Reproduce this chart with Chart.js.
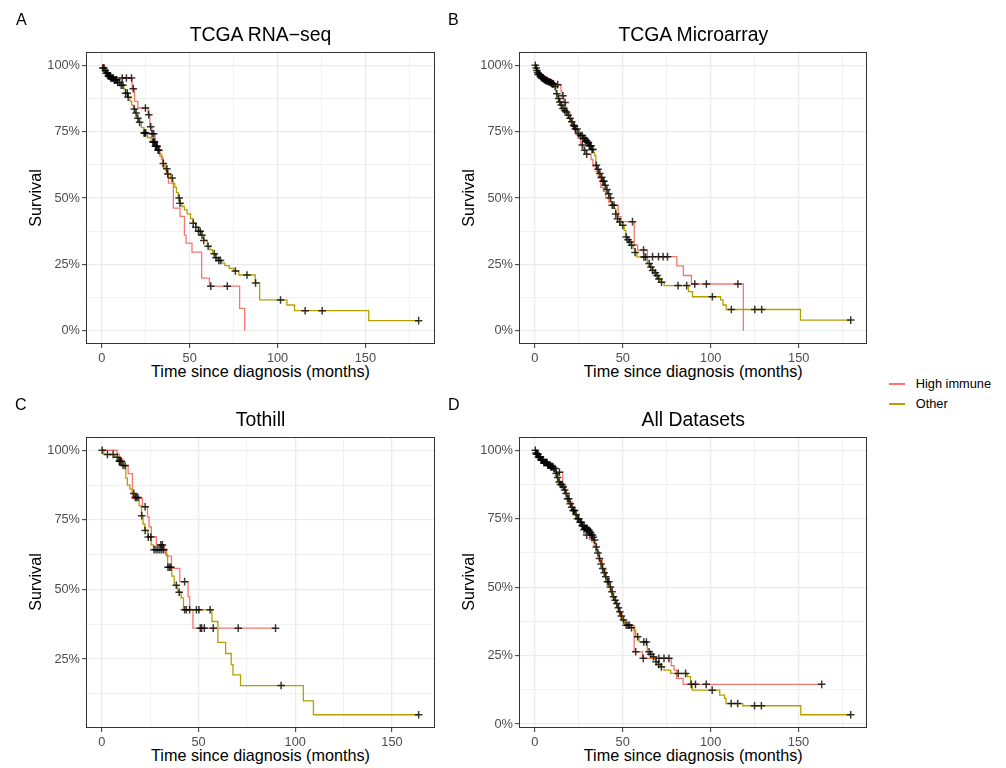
<!DOCTYPE html>
<html><head><meta charset="utf-8">
<script src="https://cdn.jsdelivr.net/npm/chart.js@4.4.0/dist/chart.umd.min.js"></script>
<style>
body{margin:0;background:#fff;width:1006px;height:768px;overflow:hidden;position:relative;font-family:"Liberation Sans",Arial,sans-serif;}
canvas{position:absolute;}
.t{position:absolute;white-space:nowrap;line-height:1;color:#000;}
.c{transform:translateX(-50%);}
.r{transform:translate(-50%,-50%) rotate(-90deg);}
.key{position:absolute;height:1.5px;width:16px;}
</style></head><body>
<canvas id="cA" width="440" height="362" style="left:0;top:0"></canvas>
<canvas id="cB" width="432" height="362" style="left:440px;top:0"></canvas>
<canvas id="cC" width="440" height="361" style="left:0;top:385px"></canvas>
<canvas id="cD" width="432" height="361" style="left:440px;top:385px"></canvas>

<div class="t" style="left:16px;top:11.5px;font-size:16px">A</div>
<div class="t" style="left:448px;top:11.5px;font-size:16px">B</div>
<div class="t" style="left:15px;top:396.5px;font-size:16px">C</div>
<div class="t" style="left:448px;top:396.5px;font-size:16px">D</div>

<div class="t c" id="tA" style="left:260.5px;top:25.3px;font-size:19.4px"></div>
<div class="t c" id="tB" style="left:693.3px;top:25.3px;font-size:19.4px"></div>
<div class="t c" id="tC" style="left:260.5px;top:410.3px;font-size:19.4px"></div>
<div class="t c" id="tD" style="left:693.3px;top:409.6px;font-size:19.4px"></div>

<div class="t c xl" style="left:260.5px;top:363px;font-size:16.2px"></div>
<div class="t c xl" style="left:693.3px;top:363px;font-size:16.2px"></div>
<div class="t c xl" style="left:260.5px;top:747.3px;font-size:16.2px"></div>
<div class="t c xl" style="left:693.3px;top:747.3px;font-size:16.2px"></div>

<div class="t r yl" style="left:35px;top:198px;font-size:16.2px"></div>
<div class="t r yl" style="left:468px;top:198px;font-size:16.2px"></div>
<div class="t r yl" style="left:35px;top:582.2px;font-size:16.2px"></div>
<div class="t r yl" style="left:468px;top:582.2px;font-size:16.2px"></div>

<div class="key" id="k0" style="left:889px;top:383.25px"></div>
<div class="key" id="k1" style="left:889px;top:403.25px"></div>
<div class="t" id="g0" style="left:915.7px;top:377.7px;font-size:12.8px"></div>
<div class="t" id="g1" style="left:915.7px;top:397.7px;font-size:12.8px"></div>

<script>
// ---------------- data ----------------
const groups = ['High immune', 'Other'];
const groupColors = ['#F8766D', '#B79F00'];
const panelTitles = ['TCGA RNA\u2212seq', 'TCGA Microarray', 'Tothill', 'All Datasets'];
const xAxisTitle = 'Time since diagnosis (months)';
const yAxisTitle = 'Survival';
const xMajorTicks = [0, 50, 100, 150];
const xMinorTicks = [25, 75, 125, 175];
const yMajorTicks = [0, 0.25, 0.5, 0.75, 1];
const yTickLabels = ['0%', '25%', '50%', '75%', '100%'];
const yMinorTicks = [0.125, 0.375, 0.625, 0.875];

// Panel A: TCGA RNA-seq
const A_high_time = [1.5, 3, 17.2, 18.6, 20.5, 26.3, 27.3, 28.5, 30.3, 31.5, 33, 34.7, 36.6, 37.9, 40.7, 44.5, 47, 47.9, 51.3, 56.8, 61.2, 78.4, 81.3];
const A_high_surv = [0.976, 0.952, 0.912, 0.864, 0.839, 0.814, 0.768, 0.742, 0.714, 0.69, 0.657, 0.617, 0.59, 0.556, 0.462, 0.431, 0.36, 0.33, 0.296, 0.198, 0.168, 0.084, 0];
const A_high_cens = [11.6, 14, 16.9, 17.9, 24.8, 26.7, 27.8, 28.6, 29.5, 62, 71.4];
const A_other_time = [0.5, 1.5, 2.5, 3.5, 5, 7, 9, 11, 12.5, 13.5, 14.8, 16, 17, 18, 19, 20, 21, 22.5, 24, 26, 28, 30.5, 32, 33, 34, 35, 36, 37.5, 39, 40.5, 41.5, 42.5, 43.5, 44.5, 45.5, 47, 48.5, 50.5, 52, 53.5, 55, 56.4, 58, 60, 61.5, 63, 64.5, 66, 68, 70, 72.5, 75, 78, 87.3, 89.8, 105.3, 109.7, 151.9];
const A_other_surv = [0.99, 0.98, 0.97, 0.96, 0.952, 0.945, 0.935, 0.925, 0.91, 0.895, 0.88, 0.865, 0.85, 0.835, 0.82, 0.80, 0.785, 0.765, 0.745, 0.728, 0.711, 0.695, 0.68, 0.665, 0.645, 0.63, 0.61, 0.59, 0.575, 0.555, 0.54, 0.52, 0.5, 0.48, 0.468, 0.455, 0.44, 0.422, 0.405, 0.39, 0.375, 0.36, 0.34, 0.318, 0.305, 0.29, 0.275, 0.265, 0.255, 0.245, 0.235, 0.225, 0.21, 0.18, 0.116, 0.097, 0.0755, 0.038];
const A_other_cens = [0.6, 1.2, 2, 2.5, 3, 3.3, 3.7, 4, 4.3, 4.7, 5, 5.5, 6, 6.5, 7, 7.5, 8, 8.5, 9, 10, 11, 12, 13.5, 14.5, 15, 18.5, 19.5, 20.5, 21.5, 24, 24.5, 25, 29, 29.5, 30, 30.5, 31, 31.5, 32, 32.5, 35, 37, 37.5, 40, 44, 44.5, 52, 53.5, 55, 56, 57, 58, 60.5, 64, 65, 66.5, 67.5, 76, 82.6, 87.5, 101.7, 115.7, 125.4, 180.3];

// Panel B: TCGA Microarray
const B_high_time = [0.7, 1.5, 2.5, 3.5, 5, 7, 9, 11, 14.9, 15.5, 16.5, 17.5, 18.5, 20, 21.5, 23, 24.5, 26, 27.5, 29, 32, 33, 35, 36, 37.5, 39, 40.3, 42, 44, 47.4, 49, 56.5, 58.4, 64, 80.7, 84.4, 89, 118.5];
const B_high_surv = [0.99, 0.98, 0.97, 0.962, 0.955, 0.948, 0.94, 0.927, 0.902, 0.885, 0.86, 0.84, 0.82, 0.795, 0.77, 0.745, 0.725, 0.70, 0.68, 0.665, 0.645, 0.62, 0.60, 0.575, 0.54, 0.525, 0.50, 0.485, 0.472, 0.43, 0.411, 0.323, 0.304, 0.279, 0.244, 0.208, 0.176, 0];
const B_high_cens = [13, 16, 17.2, 22.5, 27, 28.3, 29.5, 55.5, 61.8, 66.9, 70.3, 72.9, 75.4, 90.9, 97.5, 115.4];
const B_other_time = [0.5, 1, 1.5, 2, 3, 4, 5, 6, 7, 8, 9, 10, 11, 12, 13, 13.8, 14.8, 15.7, 16.7, 17.6, 18.5, 19.5, 20.5, 21.4, 22.5, 24.2, 25.5, 27.1, 28.5, 29.9, 31, 32.2, 33.2, 34, 34.7, 35.6, 36.6, 37.5, 38.4, 39.5, 40.5, 41.3, 42.2, 43.2, 44, 45.1, 46, 47, 48, 48.9, 50.8, 51.7, 52.6, 53.6, 55, 56, 57, 58, 64, 65.5, 66.9, 68, 68.8, 70, 71.6, 73.5, 87.3, 89.6, 105.6, 106.9, 108.8, 151];
const B_other_surv = [0.99, 0.98, 0.972, 0.965, 0.958, 0.952, 0.947, 0.943, 0.94, 0.937, 0.934, 0.93, 0.92, 0.893, 0.875, 0.862, 0.85, 0.837, 0.83, 0.824, 0.812, 0.80, 0.787, 0.774, 0.76, 0.742, 0.735, 0.724, 0.716, 0.709, 0.697, 0.683, 0.672, 0.66, 0.623, 0.608, 0.592, 0.578, 0.563, 0.548, 0.532, 0.516, 0.5, 0.485, 0.473, 0.46, 0.44, 0.422, 0.41, 0.397, 0.378, 0.353, 0.343, 0.334, 0.322, 0.309, 0.295, 0.278, 0.253, 0.24, 0.227, 0.218, 0.208, 0.195, 0.183, 0.17, 0.147, 0.128, 0.116, 0.097, 0.08, 0.04];
const B_other_cens = [0.3, 0.8, 1.2, 1.6, 2, 2.4, 2.8, 3.2, 3.6, 4, 4.4, 4.8, 5.2, 5.6, 6, 6.5, 7, 7.5, 8, 8.5, 9, 9.5, 10, 10.5, 11.5, 12.5, 13.5, 14.2, 15, 16, 17, 18, 19, 20, 21, 22, 23, 24, 25, 26, 27, 27.7, 28.3, 29, 29.5, 30, 30.5, 31, 31.5, 32, 32.5, 33, 35, 36, 37, 38, 38.7, 39.3, 40, 41, 42, 43, 44, 45, 46, 47, 48.3, 50, 52, 53, 54, 55, 57, 62, 63, 65, 66, 67, 68.5, 69.5, 70.5, 72, 81.4, 86.3, 100.9, 111.7, 125, 128.9, 179.5];

// Panel C: Tothill
const C_high_time = [7.9, 9, 10.5, 13.6, 15.8, 21, 23.6, 24.4, 25.6, 28.2, 32, 33.5, 36, 40.3, 44.6, 45.4, 47.1];
const C_high_surv = [0.986, 0.97, 0.945, 0.916, 0.827, 0.797, 0.761, 0.725, 0.69, 0.66, 0.645, 0.62, 0.576, 0.528, 0.474, 0.427, 0.361];
const C_high_cens = [22.4, 30.5, 31.3, 42.8, 50.9, 51.6, 53, 57.6, 70.5, 89.8];
const C_other_time = [1, 6.7, 8.5, 10.7, 12.4, 13.2, 14.5, 15.7, 17, 19.3, 20.5, 21.3, 22.2, 23.8, 25.5, 26.7, 33, 34, 36.2, 37.4, 39.3, 41, 42.2, 56.9, 60, 64, 66.9, 67.8, 71.7, 104.2, 109.4];
const C_other_surv = [0.985, 0.975, 0.96, 0.945, 0.90, 0.875, 0.86, 0.845, 0.83, 0.80, 0.765, 0.735, 0.712, 0.688, 0.66, 0.643, 0.625, 0.58, 0.548, 0.515, 0.49, 0.47, 0.427, 0.385, 0.31, 0.27, 0.23, 0.193, 0.155, 0.10, 0.05];
const C_other_cens = [0.2, 2.9, 5.8, 8, 9, 9.5, 10, 11, 12, 16.5, 17.3, 18, 18.7, 20.6, 22.4, 24, 25.3, 27, 28, 29, 30, 31, 32, 34.2, 35, 35.7, 38.5, 40, 42.8, 43.7, 45.4, 48.9, 50.2, 56, 92.7, 163.8];

// Panel D: All Datasets
const D_high_time = [0.5, 1.5, 2.5, 4, 6, 8, 10, 12, 15.9, 17.5, 19.5, 21.4, 23, 24.5, 26, 27.5, 29, 31, 32.5, 33.7, 34.7, 36.6, 38.4, 40.3, 42.2, 44.1, 46, 47.9, 49.8, 51.3, 56.5, 61.2, 77.6, 79.2, 80.7, 84.4];
const D_high_surv = [0.99, 0.98, 0.97, 0.96, 0.95, 0.94, 0.93, 0.92, 0.872, 0.842, 0.81, 0.78, 0.76, 0.745, 0.725, 0.71, 0.69, 0.675, 0.665, 0.65, 0.63, 0.60, 0.565, 0.535, 0.50, 0.465, 0.44, 0.405, 0.375, 0.36, 0.264, 0.24, 0.213, 0.197, 0.167, 0.145];
const D_high_cens = [14, 22, 27, 28, 29.5, 57.4, 61.7, 70.6, 73.5, 76.3, 89, 91.4, 97.5, 163.2];
const D_other_time = [0.5, 1, 2, 3.4, 5, 7.2, 9, 10.6, 11.9, 12.6, 13.3, 14.5, 15.7, 16.6, 17.6, 18.5, 19.5, 20.5, 21.4, 22.8, 24.2, 25.6, 27.1, 28.5, 29.9, 31, 32.2, 33, 33.7, 34.2, 34.7, 35.6, 36.6, 37.5, 38.4, 39.4, 40.3, 41.2, 42.2, 43.1, 44.1, 45, 46, 47, 47.9, 48.8, 49.8, 51.3, 54, 56.4, 57.4, 59.3, 64, 65.5, 66.9, 68, 68.8, 70, 71.6, 73.5, 77.3, 86.7, 88.6, 89.6, 105.2, 107.9, 108.8, 118.3, 151.3];
const D_other_surv = [0.99, 0.985, 0.975, 0.964, 0.955, 0.945, 0.94, 0.933, 0.915, 0.9, 0.884, 0.875, 0.866, 0.855, 0.842, 0.823, 0.805, 0.792, 0.78, 0.765, 0.75, 0.737, 0.723, 0.715, 0.708, 0.7, 0.69, 0.682, 0.672, 0.66, 0.647, 0.625, 0.605, 0.585, 0.568, 0.553, 0.538, 0.52, 0.501, 0.483, 0.465, 0.452, 0.44, 0.425, 0.41, 0.395, 0.38, 0.361, 0.352, 0.343, 0.319, 0.30, 0.264, 0.255, 0.246, 0.237, 0.228, 0.218, 0.209, 0.197, 0.185, 0.173, 0.148, 0.124, 0.106, 0.094, 0.075, 0.067, 0.034];
const D_other_cens = [0.3, 0.7, 1, 1.4, 1.8, 2.1, 2.5, 2.9, 3.2, 3.6, 4, 4.3, 4.7, 5.1, 5.5, 5.9, 6.3, 6.7, 7, 7.4, 7.8, 8.2, 8.6, 9, 9.4, 9.8, 10.3, 10.8, 11.4, 12.2, 13, 13.9, 14.6, 15.4, 16.2, 17, 17.8, 18.6, 19.3, 20.2, 21, 21.9, 22.7, 23.5, 24.3, 25, 25.8, 26.5, 27.3, 28, 28.6, 29.2, 29.8, 30.3, 30.8, 31.3, 31.8, 32.3, 32.8, 33.3, 34, 35, 35.9, 36.8, 37.7, 38.6, 39.5, 40.4, 41.3, 42.1, 43, 43.9, 44.8, 45.7, 46.6, 47.5, 48.4, 49.2, 50.5, 52, 53, 53.8, 55, 58.5, 62, 63.5, 65, 66, 67.5, 69, 70.5, 72, 81.6, 85.8, 100.9, 111.7, 115.4, 125, 128.9, 179.7];

// ---------------- helpers ----------------
function kmPoints(times, surv, cens) {
  const pts = [{x: 0, y: 1}];
  times.forEach((t, i) => pts.push({x: t, y: surv[i]}));
  const lastEvent = times[times.length - 1];
  const lastCens = Math.max.apply(null, cens);
  if (lastCens > lastEvent) pts.push({x: lastCens, y: surv[surv.length - 1]});
  return pts;
}
function survAt(times, surv, t) {
  let s = 1;
  for (let i = 0; i < times.length; i++) { if (times[i] <= t) s = surv[i]; else break; }
  return s;
}
function censPoints(times, surv, cens) {
  return cens.map(t => ({x: t, y: survAt(times, surv, t)}));
}

const FONT = '"Liberation Sans", Arial, sans-serif';
const borderPlugin = {
  id: 'panelBorder',
  afterDraw(chart) {
    const a = chart.chartArea, ctx = chart.ctx;
    ctx.save();
    ctx.strokeStyle = '#333333';
    ctx.lineWidth = 1;
    ctx.strokeRect(Math.round(a.left) + 0.5, Math.round(a.top) + 0.5,
                   Math.round(a.right - a.left) - 1, Math.round(a.bottom - a.top) - 1);
    ctx.restore();
  }
};

function isIn(list, v) { return list.some(m => Math.abs(m - v) < 1e-9); }

function makePanel(canvasId, hi, ot, yAxisWidth) {
  const allT = hi[0].concat(hi[2], ot[0], ot[2]);
  const allS = hi[1].concat(ot[1]);
  const tMax = Math.max.apply(null, allT);
  const sMin = Math.min.apply(null, allS);
  const xMin = -0.05 * tMax, xMax = 1.05 * tMax;
  const yMin = sMin - 0.05 * (1 - sMin), yMax = 1 + 0.05 * (1 - sMin);

  const lineDs = (d, gi) => ({
    type: 'scatter', label: groups[gi], data: kmPoints(d[0], d[1], d[2]),
    showLine: true, stepped: true, borderColor: groupColors[gi], borderWidth: 1.3,
    pointRadius: 0, fill: false, order: 2 - gi
  });
  const censDs = (d, gi) => ({
    type: 'scatter', label: groups[gi] + ' censored', data: censPoints(d[0], d[1], d[2]),
    showLine: false, pointStyle: 'cross', pointRadius: 3.8, borderWidth: 1.5,
    borderColor: 'rgba(0,0,0,0.78)', backgroundColor: 'rgba(0,0,0,0.78)', order: 0
  });

  const majorCol = '#EBEBEB';
  new Chart(document.getElementById(canvasId), {
    type: 'scatter',
    data: { datasets: [censDs(hi, 0), censDs(ot, 1), lineDs(ot, 1), lineDs(hi, 0)] },
    options: {
      responsive: false, animation: false, devicePixelRatio: 1,
      layout: { padding: { left: 0, right: 5, top: 52, bottom: 0 } },
      plugins: { legend: { display: false }, tooltip: { enabled: false }, title: { display: false } },
      scales: {
        x: {
          type: 'linear', min: xMin, max: xMax,
          afterFit(s) { s.height = 18; },
          afterBuildTicks(s) {
            s.ticks = xMajorTicks.concat(xMinorTicks).sort((a, b) => a - b)
              .filter(v => v >= s.min && v <= s.max).map(v => ({value: v}));
          },
          border: { display: false },
          grid: {
            color: ctx => majorCol,
            lineWidth: ctx => isIn(xMajorTicks, ctx.tick.value) ? 1.3 : 0.7,
            tickColor: ctx => isIn(xMajorTicks, ctx.tick.value) ? '#333333' : 'rgba(0,0,0,0)',
            tickLength: 4, tickWidth: 1
          },
          ticks: {
            autoSkip: false, maxRotation: 0, padding: 2.5, color: '#4D4D4D',
            font: { family: FONT, size: 12.8 },
            callback: v => isIn(xMajorTicks, v) ? String(v) : ''
          }
        },
        y: {
          type: 'linear', min: yMin, max: yMax,
          afterFit(s) { s.width = yAxisWidth; },
          afterBuildTicks(s) {
            s.ticks = yMajorTicks.concat(yMinorTicks).sort((a, b) => a - b)
              .filter(v => v >= s.min && v <= s.max).map(v => ({value: v}));
          },
          border: { display: false },
          grid: {
            color: ctx => majorCol,
            lineWidth: ctx => isIn(yMajorTicks, ctx.tick.value) ? 1.3 : 0.7,
            tickColor: ctx => isIn(yMajorTicks, ctx.tick.value) ? '#333333' : 'rgba(0,0,0,0)',
            tickLength: 4, tickWidth: 1
          },
          ticks: {
            autoSkip: false, padding: 2, color: '#4D4D4D',
            font: { family: FONT, size: 12.8 },
            callback: v => {
              const i = yMajorTicks.findIndex(m => Math.abs(m - v) < 1e-9);
              return i >= 0 ? yTickLabels[i] : '';
            }
          }
        }
      }
    },
    plugins: [borderPlugin]
  });
}

makePanel('cA', [A_high_time, A_high_surv, A_high_cens], [A_other_time, A_other_surv, A_other_cens], 86);
makePanel('cB', [B_high_time, B_high_surv, B_high_cens], [B_other_time, B_other_surv, B_other_cens], 79);
makePanel('cC', [C_high_time, C_high_surv, C_high_cens], [C_other_time, C_other_surv, C_other_cens], 86);
makePanel('cD', [D_high_time, D_high_surv, D_high_cens], [D_other_time, D_other_surv, D_other_cens], 79);

// text
['tA', 'tB', 'tC', 'tD'].forEach((id, i) => document.getElementById(id).textContent = panelTitles[i]);
document.querySelectorAll('.xl').forEach(e => e.textContent = xAxisTitle);
document.querySelectorAll('.yl').forEach(e => e.textContent = yAxisTitle);
groups.forEach((g, i) => {
  document.getElementById('g' + i).textContent = g;
  document.getElementById('k' + i).style.background = groupColors[i];
});
</script>
</body></html>
